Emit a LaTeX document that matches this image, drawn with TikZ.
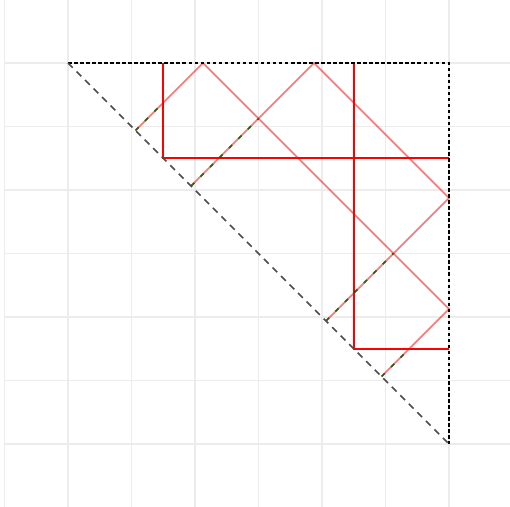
\documentclass[tikz,border=0pt]{standalone}
\usepackage{xcolor}
\usetikzlibrary{arrows.meta}

\begin{document}
\begin{tikzpicture}[gridline/.style={draw=gray!15, line width=0.7pt},
    fold/.style={draw=red, line width=0.9pt},
    ray/.style={draw=red, opacity=0.55, line width=0.7pt},
    hilite/.style={draw=green!35!black, opacity=0.8, line width=0.8pt, dash pattern=on 2pt off 4pt},
    edgeline/.style={draw=black, line width=0.75pt, dash pattern=on 1.6pt off 1.1pt},
    slant/.style={draw=black!70, line width=0.75pt, dash pattern=on 3pt off 2.4pt}]
    \useasboundingbox (-1.071,-0.992) rectangle (6.961,6.992);
    \clip (-1.071,-0.992) rectangle (6.961,6.992);
    \draw[gridline] (-1,-1) grid (7,7);
    % corners
    \coordinate (tl) at (0,6);
    \coordinate (tr) at (6,6);
    \coordinate (br) at (6,0);
    % folds
    \coordinate (f1) at (1.5,6);
    \coordinate (f2) at (1.5,4.5);
    \coordinate (f3) at (6,4.5);
    \coordinate (g1) at (4.5,6);
    \coordinate (g2) at (4.5,1.5);
    \coordinate (g3) at (6,1.5);
        \draw[fold] (f1) -- (f2) -- (f3);
        \draw[fold] (g1) -- (g2) -- (g3);
    % rays
    \coordinate (a0) at (1.0625,4.9375);
    \coordinate (a1) at (2.125,6);
    \coordinate (a2) at (6,2.125);
    \coordinate (a3) at (4.9375,1.0625);
    \coordinate (b0) at (1.9375,4.0625);
    \coordinate (b1) at (3.875,6);
    \coordinate (b2) at (6,3.875);
    \coordinate (b3) at (4.0625,1.9375);
        \draw[ray] (a0) -- (a1) -- (a2) -- (a3);
        \draw[ray] (b0) -- (b1) -- (b2) -- (b3);
    % marked parts
    \coordinate (m1) at (1.5,5.375);
    \coordinate (m2) at (3,5.125);
    \coordinate (m3) at (5.125,3);
    \coordinate (m4) at (5.375,1.5);
        \draw[hilite] (a0) -- (m1);
        \draw[hilite] (b0) -- (m2);
        \draw[hilite] (b3) -- (m3);
        \draw[hilite] (a3) -- (m4);
    % triangle
        \draw[edgeline] (tl) -- (tr) -- (br);
        \draw[slant] (tl) -- (br);
\end{tikzpicture}
\end{document}
